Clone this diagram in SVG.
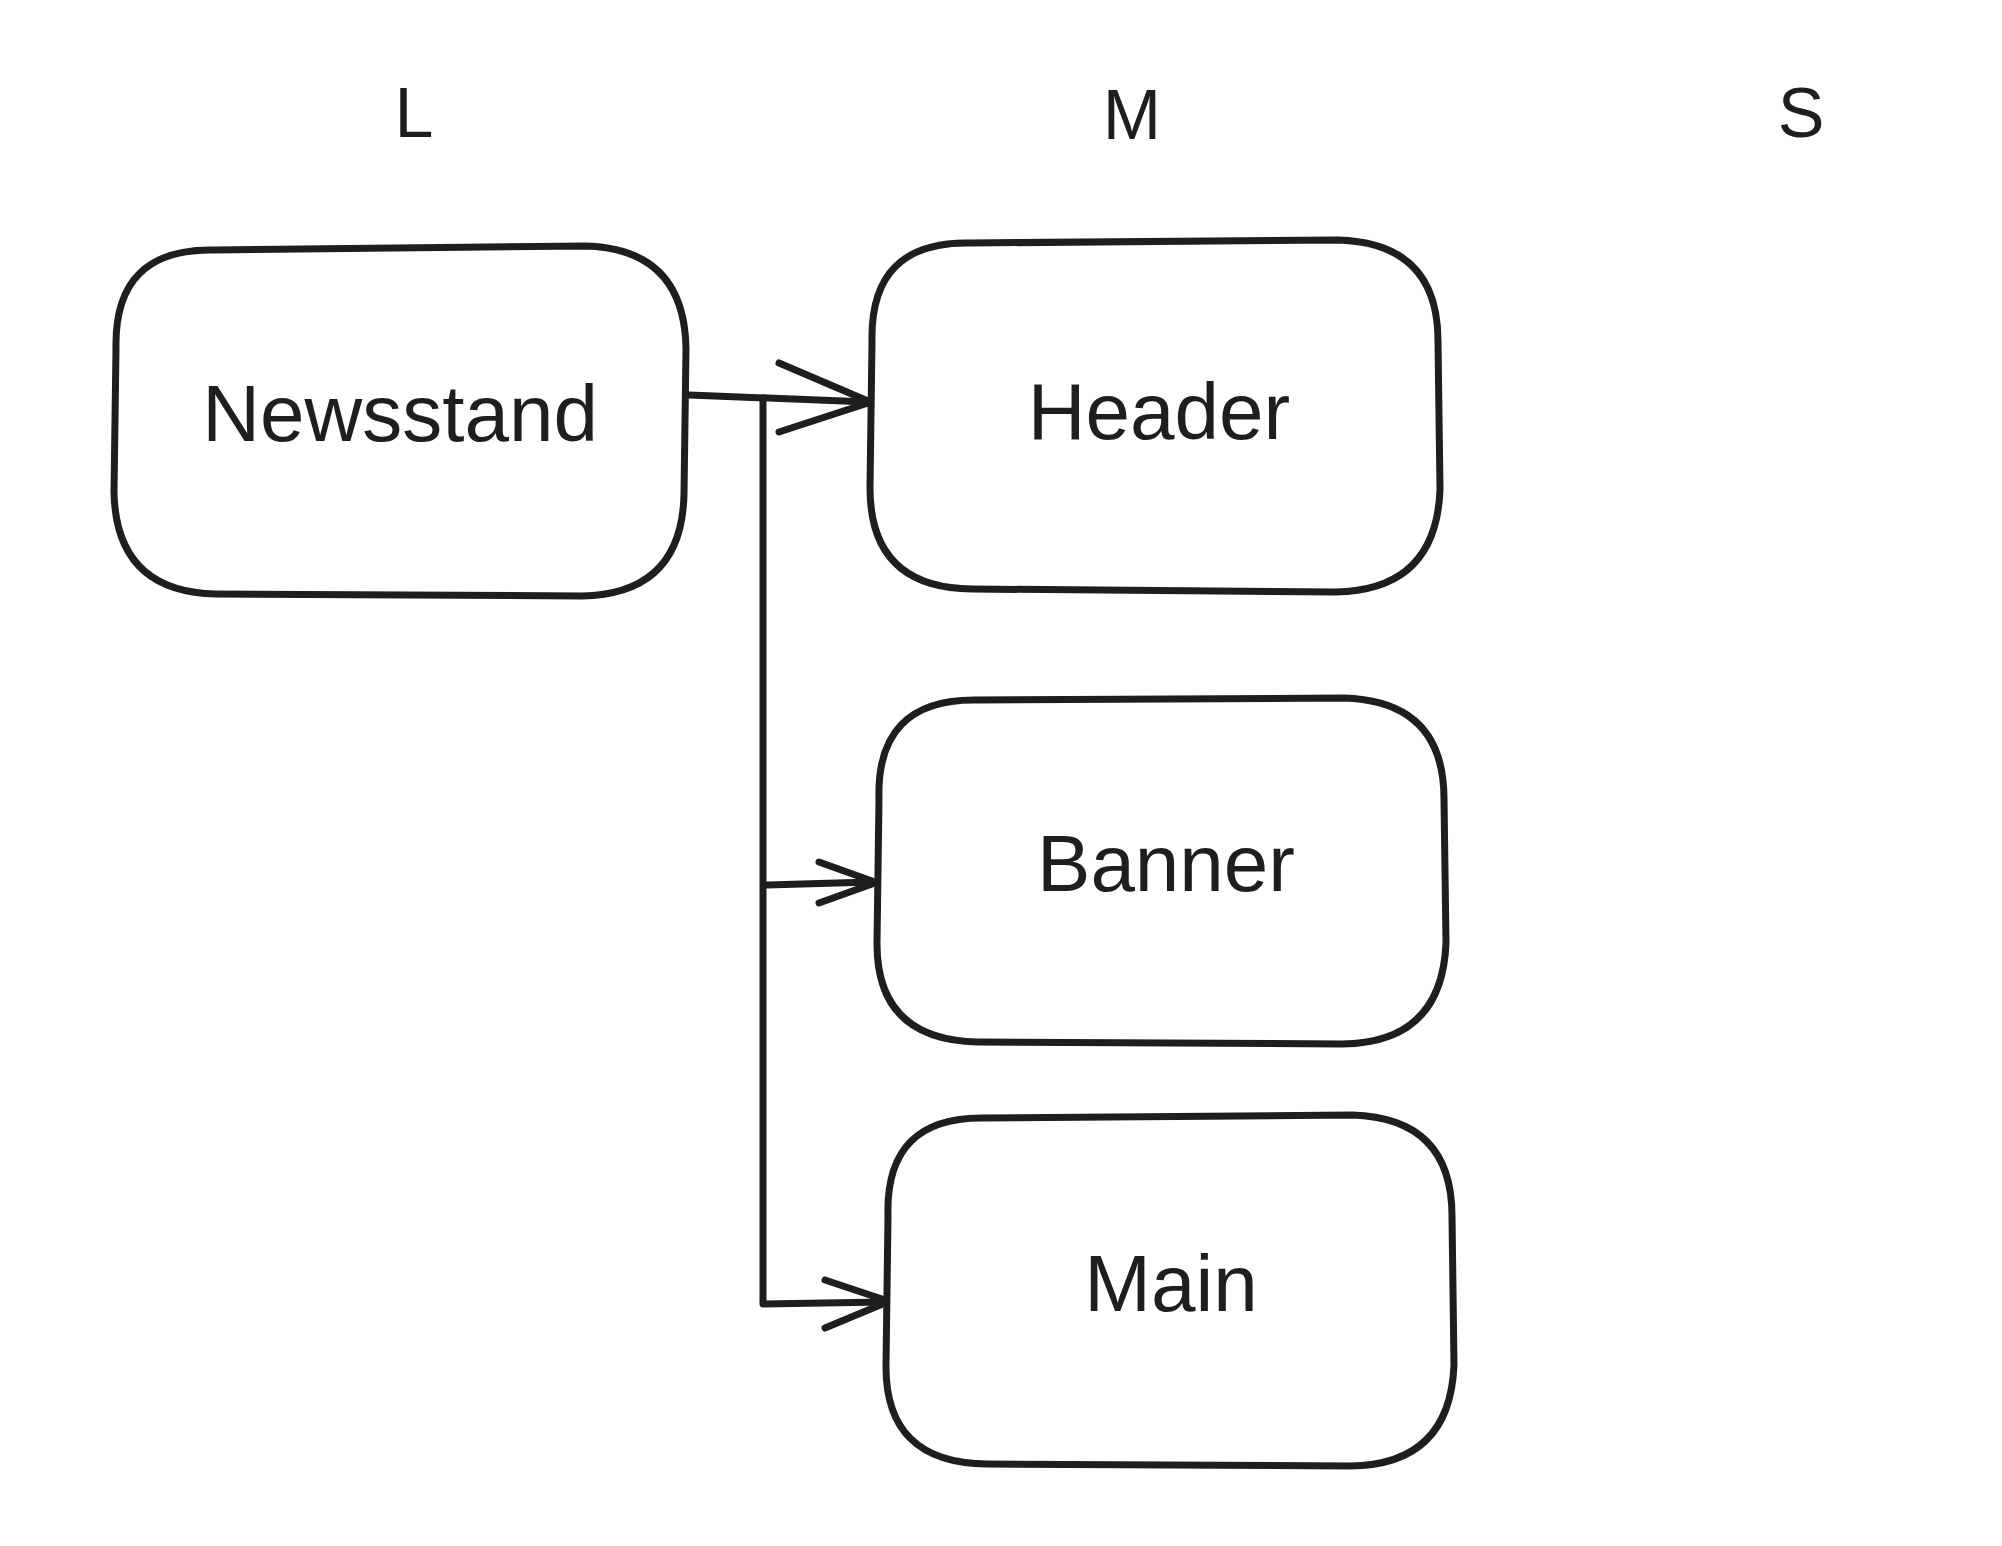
<svg xmlns="http://www.w3.org/2000/svg" width="2002" height="1546" viewBox="0 0 2002 1546">
<style>
.box{fill:none;stroke:#1e1e1e;stroke-width:7;stroke-linejoin:round;stroke-linecap:round}
.ln{fill:none;stroke:#1e1e1e;stroke-width:7;stroke-linecap:round;stroke-linejoin:round}
.lbl{font-family:"Liberation Sans","DejaVu Sans",sans-serif;font-size:80px;fill:#1e1e1e;text-anchor:middle}
.col{font-family:"Liberation Sans","DejaVu Sans",sans-serif;font-size:70px;fill:#1e1e1e;text-anchor:middle}
</style>
<rect width="2002" height="1546" fill="#ffffff"/>
<g id="columns">
<text class="col" x="414" y="137">L</text>
<text class="col" x="1132" y="139">M</text>
<text class="col" x="1801" y="137">S</text>
</g>
<g id="connectors">
<path class="ln" d="M 689 395 L 868 402"/>
<path class="ln" d="M 779 363 L 868 401 M 779 432 L 868 403"/>
<path class="ln" d="M 763 398 L 763 1302"/>
<path class="ln" d="M 767 885 L 872 882"/>
<path class="ln" d="M 819 862 L 872 881 M 819 903 L 872 884"/>
<path class="ln" d="M 763 1304 L 885 1302"/>
<path class="ln" d="M 825 1280 L 885 1300 M 825 1328 L 885 1303"/>
</g>
<g id="node-newsstand">
<path class="box" d="M 214 250 L 584 246 Q 684 248 686 348 L 684 494 Q 682 594 582 596 L 216 594 Q 116 592 114 492 L 116 348 Q 114 248 214 250 Z"/>
<text class="lbl" x="400" y="441">Newsstand</text>
</g>
<g id="node-header">
<path class="box" d="M 970 243 L 1338 240 Q 1438 243 1438 341 L 1440 490 Q 1436 590 1336 592 L 972 589 Q 870 588 870 488 L 872 341 Q 870 241 970 243 Z"/>
<text class="lbl" x="1159" y="439">Header</text>
</g>
<g id="node-banner">
<path class="box" d="M 976 700 L 1344 698 Q 1444 701 1444 799 L 1446 943 Q 1442 1043 1342 1044 L 978 1042 Q 876 1040 877 942 L 879 799 Q 876 699 976 700 Z"/>
<text class="lbl" x="1166" y="891">Banner</text>
</g>
<g id="node-main">
<path class="box" d="M 985 1118 L 1352 1115 Q 1452 1118 1452 1216 L 1454 1365 Q 1450 1465 1350 1466 L 987 1464 Q 885 1463 886 1365 L 888 1216 Q 885 1116 985 1118 Z"/>
<text class="lbl" x="1171" y="1311">Main</text>
</g>
</svg>
